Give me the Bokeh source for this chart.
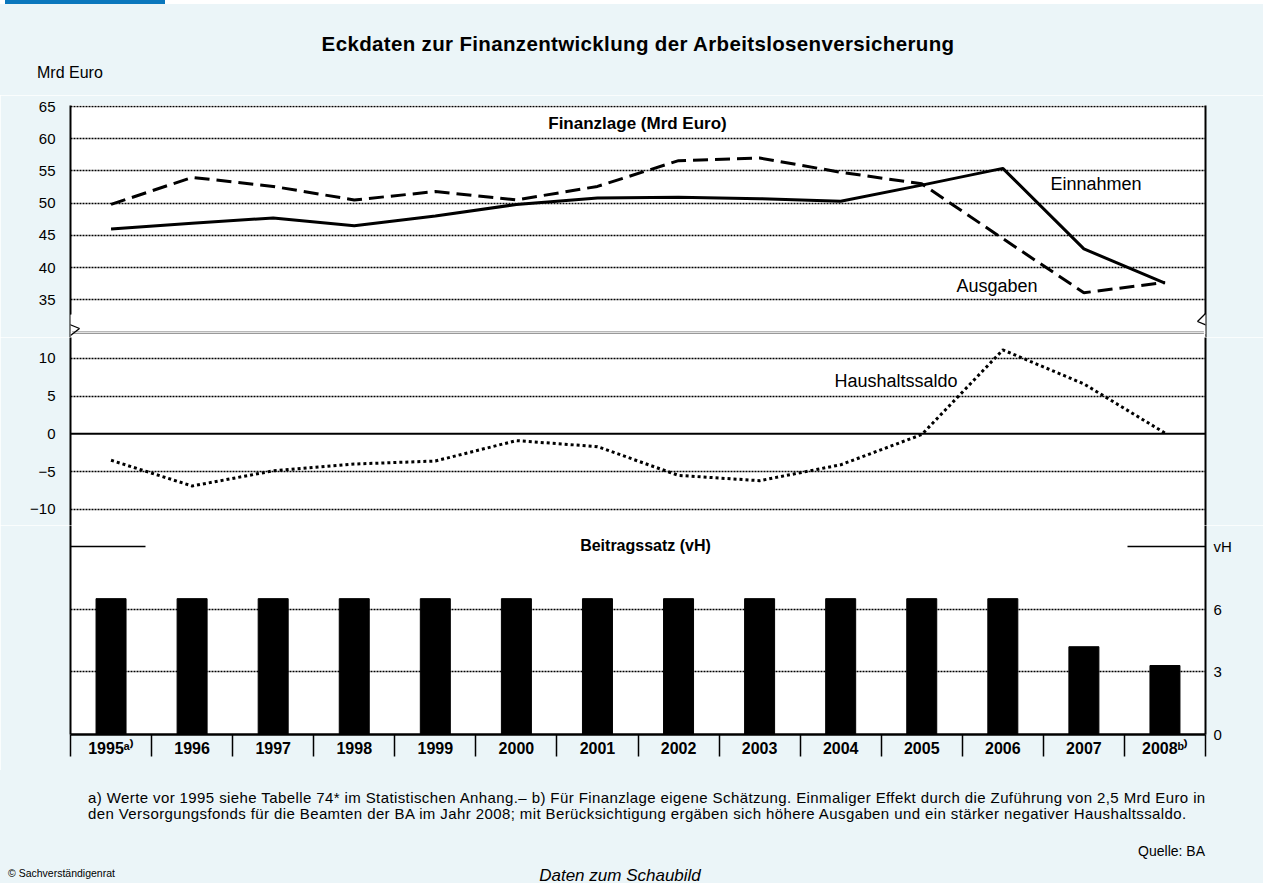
from bokeh.plotting import figure
from bokeh.models import Range1d, LinearAxis, FixedTicker, Label, Span, Arrow, BoxAnnotation, Grid, Div
from bokeh.layouts import column
from bokeh.embed import file_html
from bokeh.resources import INLINE

# ---------------- data ----------------
years = ["1995", "1996", "1997", "1998", "1999", "2000", "2001",
         "2002", "2003", "2004", "2005", "2006", "2007", "2008"]
year_notes = {"1995": "\u1d43\u207e", "2008": "\u1d47\u207e"}
einnahmen = [46.0, 46.9, 47.7, 46.5, 48.0, 49.8, 50.8, 50.9, 50.7, 50.3, 52.8, 55.4, 42.9, 37.6]
ausgaben = [49.8, 54.0, 52.6, 50.5, 51.8, 50.5, 52.6, 56.6, 57.0, 54.8, 53.0, 44.5, 36.1, 37.7]
saldo = [-3.5, -6.9, -4.9, -4.0, -3.6, -0.9, -1.7, -5.5, -6.2, -4.1, -0.1, 11.1, 6.6, 0.1]
beitragssatz = [6.5, 6.5, 6.5, 6.5, 6.5, 6.5, 6.5, 6.5, 6.5, 6.5, 6.5, 6.5, 4.2, 3.3]
upper_ticks = [35, 40, 45, 50, 55, 60, 65]
lower_ticks = [-10, -5, 0, 5, 10]
lower_grid = [-10, -5, 5, 10]
bar_ticks = [0, 3, 6, 9]
bar_grid = [3, 6]

title_text = "Eckdaten zur Finanzentwicklung der Arbeitslosenversicherung"
unit_text = "Mrd Euro"
footnote_1 = ("a) Werte vor 1995 siehe Tabelle 74* im Statistischen Anhang.\u2013 b) F\u00fcr Finanzlage "
              "eigene Sch\u00e4tzung. Einmaliger Effekt durch die Zuf\u00fchrung von 2,5 Mrd Euro in")
footnote_2 = ("den Versorgungsfonds f\u00fcr die Beamten der BA im Jahr 2008; mit Ber\u00fccksichtigung "
              "erg\u00e4ben sich h\u00f6here Ausgaben und ein st\u00e4rker negativer Haushaltssaldo.")
source_text = "Quelle: BA"
copyright_text = "\u00a9 Sachverst\u00e4ndigenrat"
data_link_text = "Daten zum Schaubild"

# ---------------- layout constants ----------------
FONT = "Liberation Sans"
BG = "#EBF5F8"
W = 1263
NC = len(years)
X0, XW = 70, 1135            # page x of frame left, frame width
centers = [i + 0.5 for i in range(NC)]

def px(x):
    return (x - X0) / XW * NC

H0 = 95                       # header height
A_T, A_H, SA = 105, 232, 6.444
A_top = 65 + 1 / SA
A_bot = A_top - A_H / SA
def pyA(y):
    return A_top - (y - A_T) / SA

B_T, B_H, SB = 337, 188, 7.56
B_top = (433.3 - B_T) / SB
B_bot = B_top - B_H / SB
def pyB(y):
    return B_top - (y - B_T) / SB

C_T, C_H, SC = 525, 209, 20.9
C_top = C_H / SC
C_BB = 36
def pyC(y):
    return C_top - (y - C_T) / SC

F_T = C_T + C_H + C_BB
F_H = 883 - F_T


def make_fig(height, y0, y1, top, bottom):
    p = figure(width=W, height=height, x_range=Range1d(0, NC), y_range=Range1d(y0, y1),
               x_axis_location=None, y_axis_location=None, title=None,
               toolbar_location=None, output_backend="svg",
               min_border_left=X0, min_border_right=W - X0 - XW,
               min_border_top=top, min_border_bottom=bottom)
    p.border_fill_color = BG
    p.background_fill_color = "white"
    p.outline_line_color = None
    p.grid.visible = False
    return p


def vaxis(ticks, standoff=15, lw=2, overrides=None):
    return LinearAxis(ticker=FixedTicker(ticks=ticks), major_tick_out=0, major_tick_in=0,
                      minor_tick_out=0, minor_tick_in=0, axis_line_width=lw,
                      axis_line_color="black", major_label_standoff=standoff,
                      major_label_text_font=FONT, major_label_text_font_size="15px",
                      major_label_text_color="black",
                      major_label_overrides=overrides or {})


def grid(p, ticks):
    p.add_layout(Grid(dimension=1, ticker=FixedTicker(ticks=ticks), grid_line_color="black",
                      grid_line_dash="2 1", grid_line_width=1.5))


def lab(p, x, y, text, size, align="left", style="normal"):
    p.add_layout(Label(x=x, y=y, text=text, text_font=FONT, text_font_size=f"{size}px",
                       text_font_style=style, text_align=align, text_baseline="middle",
                       text_color="black"))


def seg(p, x0, y0, x1, y1, w=1.3):
    p.add_layout(Arrow(end=None, x_start=x0, y_start=y0, x_end=x1, y_end=y1,
                       line_width=w, line_color="black"))


def span_html(x, y, text, size, align="left", weight="normal", italic=False, spacing=0):
    tx = {"left": "0", "center": "-50%", "right": "-100%"}[align]
    st = "italic" if italic else "normal"
    return (f'<span style="position:absolute;left:{x}px;top:{y}px;transform:translate({tx},-50%);'
            f'white-space:nowrap;font-family:\'{FONT}\',Arial,sans-serif;font-size:{size}px;'
            f'font-weight:{weight};font-style:{st};color:#000;line-height:1;'
            f'letter-spacing:{spacing}px;">{text}</span>')


def box_html(x, y, w, h, color):
    return (f'<div style="position:absolute;left:{x}px;top:{y}px;width:{w}px;height:{h}px;'
            f'background:{color};"></div>')


def panel(height, inner):
    html = (f'<div style="position:relative;width:{W}px;height:{height}px;overflow:hidden;'
            f'background:{BG};margin:0;padding:0;">{inner}</div>')
    return Div(text=html, width=W, height=height, margin=0,
               styles={"margin": "0", "padding": "0", "background-color": BG})

# ---------------- Header ----------------
header = panel(H0,
               box_html(0, 0, W, 3.5, "white") +
               box_html(5, 0, 160, 4, "#0A77BD") +
               span_html(638, 44, title_text, 20.5, "center", "bold", spacing=0.35) +
               span_html(37, 73, unit_text, 16))

# ---------------- Figure A ----------------
pA = make_fig(A_T - H0 + A_H, A_bot, A_top, A_T - H0, 0)
grid(pA, upper_ticks)
pA.add_layout(vaxis(upper_ticks), "left")
pA.add_layout(vaxis([]), "right")
pA.line(centers, ausgaben, line_color="black", line_width=3, line_dash="15 7")
pA.line(centers, einnahmen, line_color="black", line_width=3)

lab(pA, px(637), pyA(123), "Finanzlage (Mrd Euro)", 17, "center", "bold")
lab(pA, px(1050), pyA(183), "Einnahmen", 18)
lab(pA, px(956), pyA(285), "Ausgaben", 18)

# axis break
for yy in (331.3, 333.0):
    pA.add_layout(Span(location=pyA(yy), dimension="width", line_color="#9a9a9a", line_width=1))
for xa in (X0, X0 + XW):
    pA.add_layout(BoxAnnotation(left=px(xa - 1.6), right=px(xa + 1.6), top=pyA(314), bottom=pyA(337),
                                fill_color="white", fill_alpha=1, line_alpha=0))
    pts = [(xa, 313), (xa - 8, 321), (xa + 9, 328), (xa, 335)]
    for (xa0, ya0), (xa1, ya1) in zip(pts[:-1], pts[1:]):
        seg(pA, px(xa0), pyA(ya0), px(xa1), pyA(ya1))

# ---------------- Figure B ----------------
pB = make_fig(B_H, B_bot, B_top, 0, 0)
grid(pB, lower_grid)
pB.add_layout(vaxis(lower_ticks), "left")
pB.add_layout(vaxis([]), "right")
pB.add_layout(Span(location=0, dimension="width", line_color="black", line_width=2))
pB.line(centers, saldo, line_color="black", line_width=3, line_dash="3 3")
lab(pB, px(834), pyB(380), "Haushaltssaldo", 18)

# ---------------- Figure C ----------------
pC = make_fig(C_H + C_BB, 0, C_top, 0, C_BB)
grid(pC, bar_grid)
pC.add_layout(vaxis([]), "left")
pC.add_layout(vaxis(bar_ticks, standoff=8, overrides={9: "vH"}), "right")
pC.vbar(x=centers, top=beitragssatz, width=0.37, fill_color="black", line_color="black")

xlabels = {c: y + year_notes.get(y, "") for c, y in zip(centers, years)}
xax = LinearAxis(ticker=FixedTicker(ticks=centers, minor_ticks=list(range(NC + 1))),
                 major_tick_out=0, major_tick_in=0, minor_tick_out=22, minor_tick_in=0,
                 minor_tick_line_width=1.5, minor_tick_line_color="black",
                 axis_line_width=2.5, axis_line_color="black",
                 major_label_overrides=xlabels,
                 major_label_standoff=-17, major_label_text_font=FONT,
                 major_label_text_font_size="16px", major_label_text_font_style="bold",
                 major_label_text_color="black")
pC.add_layout(xax, "below")

pC.segment(x0=[0, px(1127)], y0=[9, 9], x1=[px(145), NC], y1=[9, 9],
           line_color="black", line_width=1.5)
lab(pC, px(645), pyC(545), "Beitragssatz (vH)", 16, "center", "bold")

# ---------------- Footer ----------------
footer = panel(F_H,
               span_html(88, 797 - F_T, footnote_1, 15, spacing=0.4) +
               span_html(88, 813 - F_T, footnote_2, 15, spacing=0.4) +
               span_html(1205, 851 - F_T, source_text, 14, "right") +
               span_html(8, 873 - F_T, copyright_text, 10.5) +
               span_html(620, 875 - F_T, data_link_text, 17, "center", italic=True))

layout = column(header, pA, pB, pC, footer, spacing=0)
open("out.html", "w").write(file_html(layout, INLINE))
